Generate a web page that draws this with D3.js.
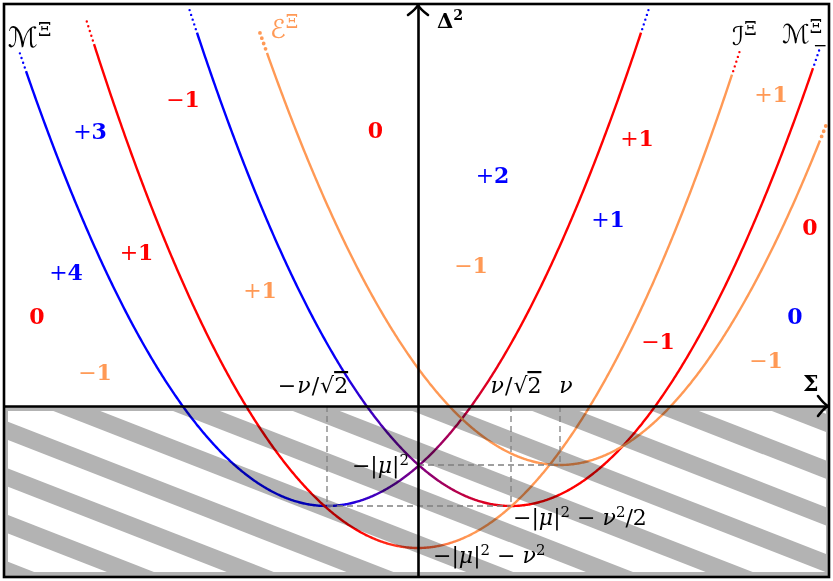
<!DOCTYPE html>
<html>
<head>
<meta charset="utf-8">
<script src="https://cdn.jsdelivr.net/npm/d3@7"></script>
<style>
  body { margin: 0; background: #fff; }
  svg { display: block; }
</style>
</head>
<body>
<svg id="chart" width="833" height="581"></svg>
<script>
// ---- data -------------------------------------------------------------
// Each branch is a parabola  Δ² = a·(Σ − Σ₀)² + Δ²₀
const curveIds    = ["M", "Mminus", "I", "E"];
const vertexSigma = [-0.91, 0.93, 0.00, 1.42];
const vertexDelta = [-1.00, -1.00, -1.42, -0.59];
const sigmaFrom   = [-3.92, -2.21, -3.24, -1.51];
const sigmaTo     = [ 2.23,  3.95,  3.14,  4.02];
const curvature   = 0.48;

// special values marked on the axes
const sigmaMarks  = [-0.91, 0.93, 1.42];       // −ν/√2, ν/√2, ν
const deltaMarks  = [-0.59, -1.00, -1.42];     // −|μ|², −|μ|²−ν²/2, −|μ|²−ν²

// integer labels of the regions between the branches
const regionText  = ["−1", "+3", "0", "+2", "+1", "+1", "+1", "0", "+1", "+4", "−1", "+1", "0", "−1", "0", "−1", "−1"];
const regionSigma = [-2.35, -3.28, -0.425, 0.745, 2.19, 3.53, 1.90, 3.92, -2.815, -3.52, 0.53, -1.58, -3.81, 2.40, 3.77, -3.23, 3.48];
const regionDelta = [ 2.99,  2.67,  2.68,  2.23, 2.60, 3.04, 1.79, 1.71,  1.46,  1.26, 1.33,  1.08,  0.82, 0.57, 0.82,  0.26, 0.38];
const regionKind  = ["r", "b", "r", "b", "r", "o", "b", "r", "r", "b", "o", "o", "r", "r", "b", "o", "o"];

// ---- styling ----------------------------------------------------------
const BLUE = "#0000ff", RED = "#ff0000", ORANGE = "#ff9955", GREY = "#b3b3b3";
const kindColor = { r: RED, b: BLUE, o: ORANGE };

const svg = d3.select("#chart");

const x = d3.scaleLinear().domain([-4.14, 4.11]).range([4, 829]);
const y = d3.scaleLinear().domain([-1.71, 4.02]).range([577, 4]);

const defs = svg.append("defs");

// colour fades along Σ
const gBR = defs.append("linearGradient").attr("id", "fadeBR")
  .attr("gradientUnits", "userSpaceOnUse")
  .attr("x1", x(-0.91)).attr("x2", x(0.93)).attr("y1", 0).attr("y2", 0);
gBR.append("stop").attr("offset", 0).attr("stop-color", BLUE);
gBR.append("stop").attr("offset", 1).attr("stop-color", RED);

const gRO = defs.append("linearGradient").attr("id", "fadeRO")
  .attr("gradientUnits", "userSpaceOnUse")
  .attr("x1", x(-0.6)).attr("x2", x(0.5)).attr("y1", 0).attr("y2", 0);
gRO.append("stop").attr("offset", 0).attr("stop-color", RED);
gRO.append("stop").attr("offset", 1).attr("stop-color", ORANGE);

const curveStroke = ["url(#fadeBR)", "url(#fadeBR)", "url(#fadeRO)", ORANGE];
const dotStart    = [BLUE, BLUE, RED, ORANGE];
const dotEnd      = [BLUE, BLUE, RED, ORANGE];
const dotSize     = [2.4, 2.4, 2.4, 3.8];

const parab = i => s => curvature * (s - vertexSigma[i]) ** 2 + vertexDelta[i];
const line = d3.line().x(d => x(d[0])).y(d => y(d[1]));

function branchPoints(i, a, b) {
  const f = parab(i);
  const n = Math.max(2, Math.ceil(Math.abs(b - a) / 0.01));
  return d3.range(n + 1).map(k => { const s = a + (b - a) * k / n; return [s, f(s)]; });
}

// ---- branches -----------------------------------------------------------
const curves = svg.append("g").attr("fill", "none");
curveIds.forEach((id, i) => {
  curves.append("path")
    .attr("d", line(branchPoints(i, sigmaFrom[i], sigmaTo[i])))
    .attr("stroke", curveStroke[i])
    .attr("stroke-width", 2.4);
  // dotted continuation beyond both ends
  [[sigmaFrom[i], sigmaFrom[i] - 0.075, dotStart[i]], [sigmaTo[i], sigmaTo[i] + 0.075, dotEnd[i]]]
    .forEach(([a, b, c]) => {
      curves.append("path")
        .attr("d", line(branchPoints(i, a, b)))
        .attr("stroke", c)
        .attr("stroke-width", dotSize[i])
        .attr("stroke-linecap", "round")
        .attr("stroke-dasharray", i === 3 ? "0 5.6" : "0 5")
        .attr("stroke-dashoffset", 1.2);
    });
});

// ---- hatched half-plane Δ² < 0 -------------------------------------------
const hatch = svg.append("g").style("mix-blend-mode", "multiply");
hatch.append("rect")
  .attr("x", x(-4.14)).attr("y", y(0))
  .attr("width", x(4.11) - x(-4.14)).attr("height", y(-1.71) - y(0))
  .attr("fill", GREY);
defs.append("clipPath").attr("id", "hatchClip").append("rect")
  .attr("x", 8).attr("y", y(0) + 5).attr("width", 818).attr("height", 161);
const slope = 0.39, period = 46.7, gap = 28.4;
const stripes = hatch.append("g").attr("clip-path", "url(#hatchClip)");
for (let y0 = 440 - period * 9; y0 < 590; y0 += period) {
  const xl = 8, xr = 826, dy = slope * (xr - xl);
  stripes.append("polygon")
    .attr("points", [[xl, y0], [xr, y0 + dy], [xr, y0 + dy + gap], [xl, y0 + gap]].join(" "))
    .attr("fill", "#fff");
}

// ---- dashed guides ---------------------------------------------------------
const guides = svg.append("g")
  .attr("stroke", "#808080").attr("stroke-width", 1.3)
  .attr("stroke-dasharray", "6 4").attr("fill", "none");
const guideSegs = [
  [[sigmaMarks[0], 0], [sigmaMarks[0], deltaMarks[1]]],
  [[sigmaMarks[0], deltaMarks[1]], [sigmaMarks[1], deltaMarks[1]]],
  [[sigmaMarks[1], 0], [sigmaMarks[1], deltaMarks[1]]],
  [[0, deltaMarks[0]], [sigmaMarks[2], deltaMarks[0]]],
  [[sigmaMarks[2], 0], [sigmaMarks[2], deltaMarks[0]]]
];
guideSegs.forEach(seg => guides.append("path").attr("d", line(seg)));

// ---- frame and axes -------------------------------------------------------
svg.append("rect")
  .attr("x", 4).attr("y", 4).attr("width", 825).attr("height", 573)
  .attr("fill", "none").attr("stroke", "#000").attr("stroke-width", 2.6);

const xAxis = svg.append("g").attr("transform", `translate(0,${y(0)})`)
  .call(d3.axisBottom(x).tickValues([]).tickSizeOuter(0));
const yAxis = svg.append("g").attr("transform", `translate(${x(0)},0)`)
  .call(d3.axisLeft(y).tickValues([]).tickSizeOuter(0));
[xAxis, yAxis].forEach(a => a.select(".domain").attr("stroke", "#000").attr("stroke-width", 2.6));

// arrow heads
const arrows = svg.append("g").attr("fill", "none").attr("stroke", "#000")
  .attr("stroke-width", 2.6).attr("stroke-linecap", "round").attr("stroke-linejoin", "round");
const xe = x(4.11) - 1, yt = y(4.02) + 1;
arrows.append("path").attr("d", `M${xe - 10},${y(0) - 10} Q${xe - 4},${y(0) - 2} ${xe},${y(0)} Q${xe - 4},${y(0) + 2} ${xe - 10},${y(0) + 10}`);
arrows.append("path").attr("d", `M${x(0) - 10},${yt + 10} Q${x(0) - 2},${yt + 4} ${x(0)},${yt} Q${x(0) + 2},${yt + 4} ${x(0) + 10},${yt + 10}`);

// ---- text -------------------------------------------------------------
const SERIF = "'DejaVu Serif', 'Liberation Serif', serif";
const MATH = "'DejaVu Serif', 'Liberation Serif', serif";

// region integers: upright sign, bold digit
const regions = svg.append("g").attr("font-family", SERIF).attr("font-size", 22).attr("text-anchor", "middle");
regionText.forEach((t, i) => {
  const txt = regions.append("text")
    .attr("x", x(regionSigma[i])).attr("y", y(regionDelta[i]))
    .attr("fill", kindColor[regionKind[i]]);
  if (t[0] === "+" || t[0] === "−") {
    txt.append("tspan").attr("font-weight", "normal").text(t[0]);
    txt.append("tspan").attr("font-weight", "bold").text(t.slice(1));
  } else {
    txt.append("tspan").attr("font-weight", "bold").text(t);
  }
});

// build a math label from [text, style] pieces
function mathText(g, px, py, anchor, size, parts, color) {
  const t = g.append("text").attr("x", px).attr("y", py)
    .attr("text-anchor", anchor).attr("font-family", MATH)
    .attr("font-size", size).attr("fill", color || "#000");
  parts.forEach(p => {
    const s = t.append("tspan").text(p[0]);
    const o = p[1] || {};
    if (o.it) s.attr("font-style", "italic");
    if (o.sup) s.attr("font-size", size * 0.68).attr("dy", -size * 0.38);
    if (o.back) s.attr("dy", o.back);
    if (o.dx) s.attr("dx", o.dx);
    if (o.over) s.attr("text-decoration", "overline");
    if (o.family) s.attr("font-family", o.family);
    if (o.bold) s.attr("font-weight", "bold");
  });
  return t;
}

const labels = svg.append("g");
const F = 22;
// Σ-axis marks
mathText(labels, x(sigmaMarks[0]) - 14, y(0) - 13, "middle", F,
  [["−"], ["ν", { it: true, dx: 1 }], ["/", { dx: 1 }], ["√", { dx: 1 }], ["2", { over: true }]]);
mathText(labels, x(sigmaMarks[1]) + 5, y(0) - 13, "middle", F,
  [["ν", { it: true }], ["/", { dx: 1 }], ["√", { dx: 1 }], ["2", { over: true }]]);
mathText(labels, x(sigmaMarks[2]) + 6, y(0) - 13, "middle", F, [["ν", { it: true }]]);

// Δ²-axis marks
mathText(labels, x(0) - 9, y(deltaMarks[0]) + 8, "end", F,
  [["−|"], ["μ", { it: true }], ["|"], ["2", { sup: true }]]);
mathText(labels, x(sigmaMarks[1]) + 2, y(deltaMarks[1]) + 19, "start", F,
  [["−|"], ["μ", { it: true }], ["|"], ["2", { sup: true }], [" − ", { back: F * 0.38 }], ["ν", { it: true }], ["2", { sup: true }], ["/2", { back: F * 0.38 }]]);
mathText(labels, x(0) + 15, y(deltaMarks[2]) + 15, "start", F,
  [["−|"], ["μ", { it: true }], ["|"], ["2", { sup: true }], [" − ", { back: F * 0.38 }], ["ν", { it: true }], ["2", { sup: true }]]);

// axis titles
mathText(labels, x(0) + 19, y(3.78), "start", 21,
  [["Δ", { bold: true, family: SERIF }], ["2", { sup: true, bold: true, family: SERIF }]]);
mathText(labels, x(3.85), y(0.15), "start", 22, [["Σ", { bold: true, family: SERIF }]]);

// branch names
const SCRIPT = "'DejaVu Sans', 'DejaVu Serif', serif";
mathText(labels, x(-4.10), y(3.59), "start", 28,
  [["ℳ", { family: SCRIPT, it: true }], ["Ξ", { sup: true }]]);
mathText(labels, x(-1.48), y(3.68), "start", 26,
  [["ℰ", { family: SCRIPT, it: true }], ["Ξ", { sup: true }]], ORANGE);
mathText(labels, x(3.14), y(3.61), "start", 26,
  [["ℐ", { family: SCRIPT, it: true }], ["Ξ", { sup: true }]]);
mathText(labels, x(3.64), y(3.63), "start", 26,
  [["ℳ", { family: SCRIPT, it: true }], ["Ξ", { sup: true }]]);
// subscript minus under the Ξ of ℳ_−
mathText(labels, x(3.95), y(3.55), "start", 17, [["−"]]);
</script>
</body>
</html>
